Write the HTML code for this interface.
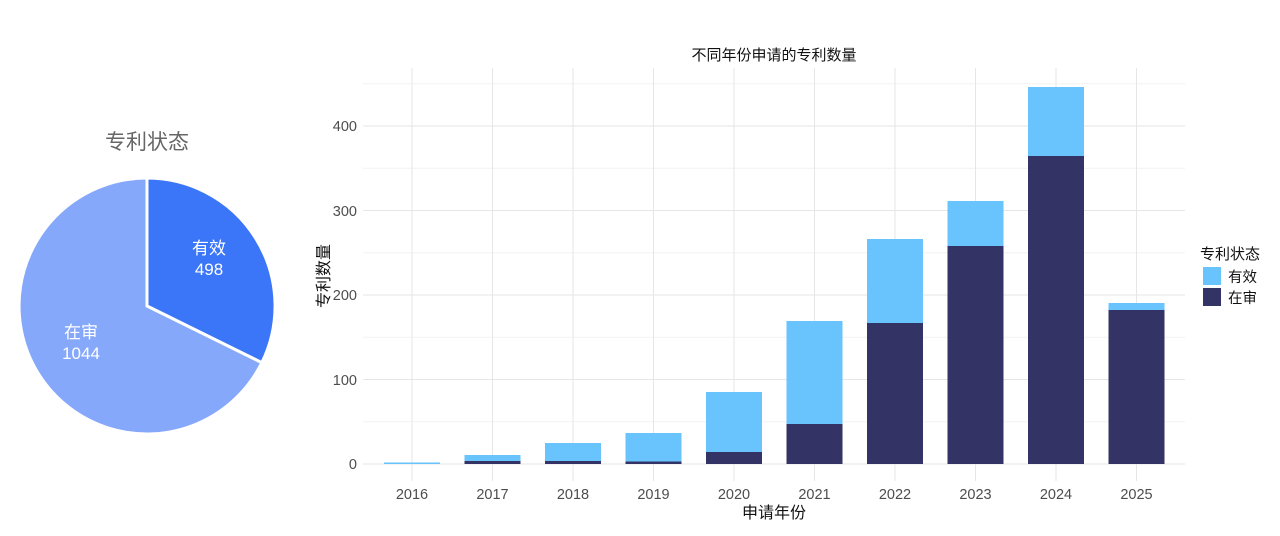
<!DOCTYPE html>
<html><head><meta charset="utf-8"><style>
body{margin:0;background:#fff;}
svg{display:block;font-family:"Liberation Sans","Noto Sans CJK SC",sans-serif;}
</style></head><body>
<svg width="1280" height="536" viewBox="0 0 1280 536">
<rect width="1280" height="536" fill="#fff"/>
<!-- Pie -->
<text x="147" y="149" font-size="21" fill="#666" text-anchor="middle">专利状态</text>
<path d="M147,306 L147,178 A128,128 0 0 1 261.8,362.7 Z" fill="#3c76f8" stroke="#fff" stroke-width="3"/>
<path d="M147,306 L261.8,362.7 A128,128 0 1 1 147,178 Z" fill="#86a8fb" stroke="#fff" stroke-width="3"/>
<text x="209" y="254" font-size="17" fill="#fff" text-anchor="middle">有效</text>
<text x="209" y="275" font-size="17" fill="#fff" text-anchor="middle">498</text>
<text x="81" y="338" font-size="17" fill="#fff" text-anchor="middle">在审</text>
<text x="81" y="359" font-size="17" fill="#fff" text-anchor="middle">1044</text>
<!-- Bar chart grid -->
<g stroke="#f2f2f2" stroke-width="1">
<line x1="363" x2="1185" y1="421.75" y2="421.75"/><line x1="363" x2="1185" y1="337.25" y2="337.25"/>
<line x1="363" x2="1185" y1="252.75" y2="252.75"/><line x1="363" x2="1185" y1="168.25" y2="168.25"/>
<line x1="363" x2="1185" y1="83.75" y2="83.75"/>
</g>
<g stroke="#e6e6e6" stroke-width="1">
<line x1="363" x2="1185" y1="464" y2="464"/><line x1="363" x2="1185" y1="379.5" y2="379.5"/>
<line x1="363" x2="1185" y1="295" y2="295"/><line x1="363" x2="1185" y1="210.5" y2="210.5"/>
<line x1="363" x2="1185" y1="126" y2="126"/>
<line x1="412" x2="412" y1="68" y2="481"/><line x1="492.5" x2="492.5" y1="68" y2="481"/>
<line x1="573" x2="573" y1="68" y2="481"/><line x1="653.5" x2="653.5" y1="68" y2="481"/>
<line x1="734" x2="734" y1="68" y2="481"/><line x1="814.5" x2="814.5" y1="68" y2="481"/>
<line x1="895" x2="895" y1="68" y2="481"/><line x1="975.5" x2="975.5" y1="68" y2="481"/>
<line x1="1056" x2="1056" y1="68" y2="481"/><line x1="1136.5" x2="1136.5" y1="68" y2="481"/>
</g>
<!-- Bars -->
<g fill="#69c3fc">
<rect x="384" y="462.5" width="56" height="1.5"/>
<rect x="464.5" y="455" width="56" height="9"/>
<rect x="545" y="443" width="56" height="21"/>
<rect x="625.5" y="433" width="56" height="31"/>
<rect x="706" y="392" width="56" height="72"/>
<rect x="786.5" y="321" width="56" height="143"/>
<rect x="867" y="239" width="56" height="225"/>
<rect x="947.5" y="201" width="56" height="263"/>
<rect x="1028" y="87" width="56" height="377"/>
<rect x="1108.5" y="303" width="56" height="161"/>
</g>
<g fill="#333366">
<rect x="464.5" y="461" width="56" height="3"/>
<rect x="545" y="461" width="56" height="3"/>
<rect x="625.5" y="461.5" width="56" height="2.5"/>
<rect x="706" y="452" width="56" height="12"/>
<rect x="786.5" y="424" width="56" height="40"/>
<rect x="867" y="323" width="56" height="141"/>
<rect x="947.5" y="246" width="56" height="218"/>
<rect x="1028" y="156" width="56" height="308"/>
<rect x="1108.5" y="310" width="56" height="154"/>
</g>
<!-- Axis labels -->
<g font-size="14.5" fill="#4d4d4d" text-anchor="end">
<text x="357" y="469">0</text><text x="357" y="385">100</text><text x="357" y="300">200</text>
<text x="357" y="216">300</text><text x="357" y="131">400</text>
</g>
<g font-size="14.5" fill="#4d4d4d" text-anchor="middle">
<text x="412" y="499">2016</text><text x="492.5" y="499">2017</text><text x="573" y="499">2018</text>
<text x="653.5" y="499">2019</text><text x="734" y="499">2020</text><text x="814.5" y="499">2021</text>
<text x="895" y="499">2022</text><text x="975.5" y="499">2023</text><text x="1056" y="499">2024</text>
<text x="1136.5" y="499">2025</text>
</g>
<text x="774" y="518" font-size="16" fill="#111" text-anchor="middle">申请年份</text>
<text transform="translate(329,276) rotate(-90)" font-size="16" fill="#111" text-anchor="middle">专利数量</text>
<text x="774" y="60" font-size="15" fill="#111" text-anchor="middle">不同年份申请的专利数量</text>
<!-- Legend -->
<text x="1200" y="259" font-size="15" fill="#111">专利状态</text>
<rect x="1203" y="267" width="18" height="18" fill="#69c3fc"/>
<rect x="1203" y="288" width="18" height="18" fill="#333366"/>
<text x="1228" y="282" font-size="14.5" fill="#111">有效</text>
<text x="1228" y="303" font-size="14.5" fill="#111">在审</text>
</svg>
</body></html>
